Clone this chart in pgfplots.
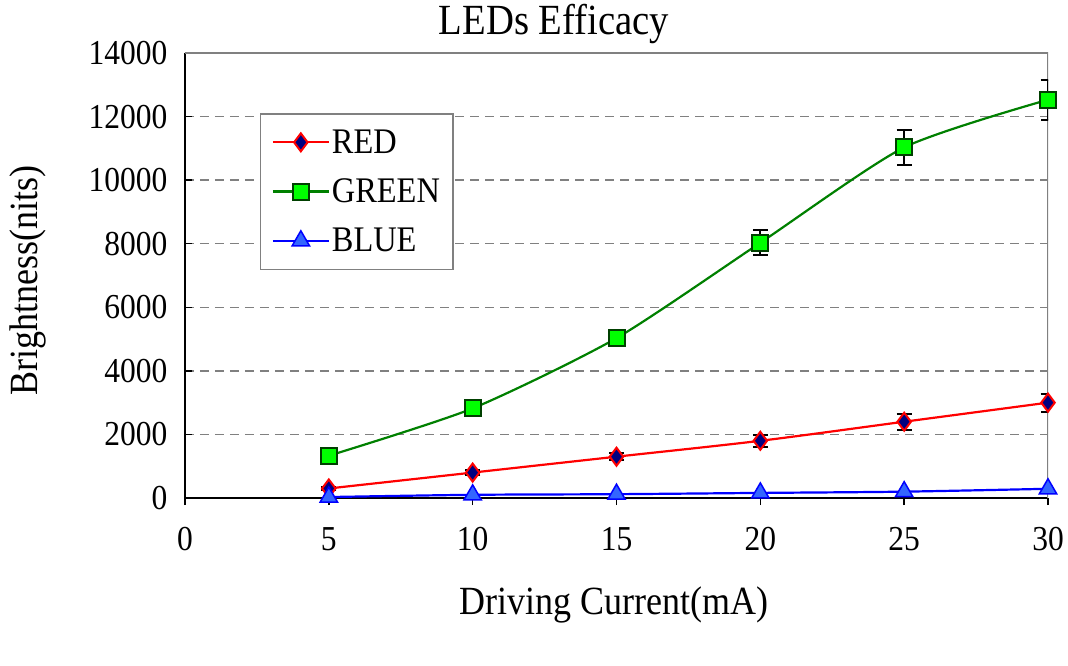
\documentclass[border=0pt]{standalone}
\usepackage{fontspec}
\setmainfont{Liberation Serif}[FakeStretch=0.9]
\usepackage{pgfplots}
\pgfplotsset{compat=1.18}
\definecolor{gridgray}{HTML}{808080}
\definecolor{redline}{HTML}{FF0000}
\definecolor{navyfill}{HTML}{000080}
\definecolor{greenline}{HTML}{008000}
\definecolor{limefill}{HTML}{00FF00}
\definecolor{darkgreen}{HTML}{004000}
\definecolor{blueline}{HTML}{0000FF}
\definecolor{bluefill}{HTML}{3366FF}
\begin{document}
\begin{tikzpicture}
\begin{axis}[
  name=ax,
  scale only axis,
  width=863pt, height=445pt,
  xmin=0, xmax=30, ymin=0, ymax=14000,
  xtick={0,5,10,15,20,25,30},
  ytick={0,2000,4000,6000,8000,10000,12000,14000},
  scaled y ticks=false,
  axis x line*=bottom, axis y line*=left,
  axis line style={black, line width=1.5pt, -},
  tick align=inside,
  major tick length=7pt,
  tick style={black, line width=1.5pt},
  xtick style={yshift=-7pt},
  ymajorgrids,
  grid style={gridgray, line width=1.5pt, dash pattern=on 9pt off 6pt},
  /pgf/number format/assume math mode=true,
  /pgf/number format/1000 sep={},
  tick label style={font=\fontsize{35}{40}\selectfont},
  yticklabel style={xshift=-14pt},
  xticklabel style={yshift=-26pt},
  title={LEDs Efficacy},
  title style={font=\fontsize{43}{48}\selectfont, at={(axis description cs:0.4276,1.052)}, anchor=center},
  xlabel={Driving Current(mA)},
  ylabel={Brightness(nits)},
  every axis x label/.style={at={(axis description cs:0.497,-0.240)}, anchor=center, font=\fontsize{40}{45}\selectfont},
  every axis y label/.style={at={(axis description cs:-0.182,0.488)}, rotate=90, anchor=center, font=\fontsize{40}{45}\selectfont},
  legend style={at={(axis description cs:0.0869,0.865)}, anchor=north west, draw=gridgray, line width=1.5pt, font=\fontsize{36}{40}\selectfont, row sep=20pt, inner xsep=11pt, inner ysep=14pt, fill=white},
  legend cell align=left,
  legend image code/.code={\draw[mark repeat=2,mark phase=2,#1] plot coordinates {(0pt,0pt) (28pt,0pt) (56pt,0pt)};},
  error bars/error bar style={black, line width=2pt},
  error bars/error mark options={rotate=90, mark size=7.5pt, black, line width=2pt},
]
\draw[gridgray, line width=1.5pt] (rel axis cs:0,1) -- (rel axis cs:1,1) -- (rel axis cs:1,0);
\addplot[redline, line width=2.2pt, smooth, mark=diamond*, mark size=9pt,
  mark options={fill=navyfill, draw=redline, line width=2pt},
  error bars/.cd, y dir=both, y explicit]
  coordinates {(5,300) +- (0,50) (10,800) +- (0,80) (15,1300) +- (0,110) (20,1800) +- (0,190) (25,2400) +- (0,250) (30,3000) +- (0,280)};
\addlegendentry{RED}
\addplot[greenline, line width=2.2pt, smooth, tension=0.4, mark=square*, mark size=8pt,
  mark options={fill=limefill, draw=darkgreen, line width=2pt},
  error bars/.cd, y dir=both, y explicit]
  coordinates {(5,1330) +- (0,60) (10,2820) +- (0,160) (15,5030) +- (0,250) (20,8030) +- (0,400) (25,11030) +- (0,550) (30,12530) +- (0,630)};
\addlegendentry{GREEN}
\addplot[blueline, line width=2.2pt, smooth, mark=triangle*, mark size=10pt,
  mark options={fill=bluefill, draw=blueline, line width=1.5pt}]
  coordinates {(5,30) (10,100) (15,120) (20,160) (25,200) (30,290)};
\addlegendentry{BLUE}
\end{axis}
\path (ax.south west) ++(-185pt,-168pt) rectangle ++(1068pt,666pt);
\end{tikzpicture}
\end{document}
